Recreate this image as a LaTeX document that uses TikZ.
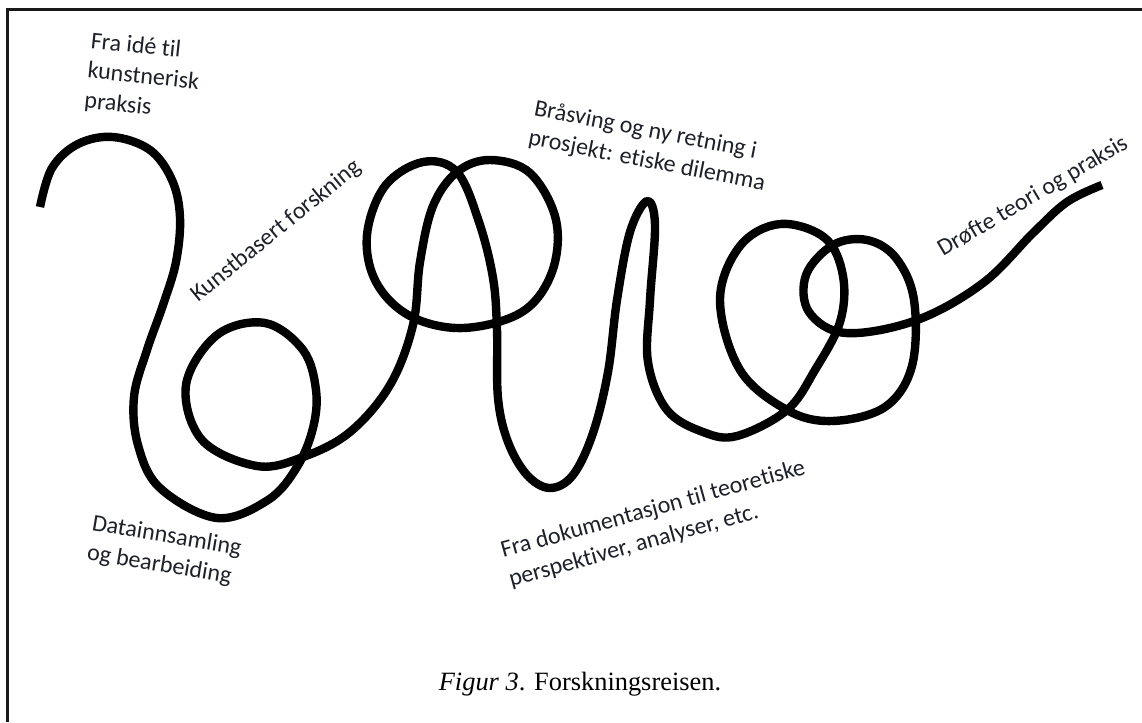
\documentclass[tikz,border=0pt]{standalone}
\usepackage{fontspec}
\newfontfamily\lblfont[Ligatures=NoCommon]{Carlito}
\newfontfamily\capfont{Liberation Serif}
\definecolor{ink}{RGB}{30,33,42}
\begin{document}
\begin{tikzpicture}[x=0.75pt,y=-0.75pt,
  lbl/.style={font={\lblfont\fontsize{18}{22.5}\selectfont}, text=ink, inner sep=0pt},
  capstyle/.style={font={\capfont\fontsize{19.8}{24}\selectfont}, inner sep=0pt},
  journey/.style={line width=6.3pt, black, line join=round},
  frameline/.style={line width=1.7pt, black!90}]
\useasboundingbox (0,0) rectangle (1142,722);
\fill[white] (0,0) rectangle (1142,722);
% frame (only left and top edges visible)
\draw[frameline] (7.5,722) -- (7.5,9.5) -- (1142,9.5);
% the research journey curve
\draw[journey] plot[smooth, tension=0.6] coordinates {
  (40,207) (52,168) (78,144) (113,137) (150,150) (172,180) (180,217)
  (176,262) (163,305) (147,350) (134,397) (138,445) (160,488) (217,518)
  (268,500) (297,467) (313,428) (316,390) (303,350) (265,323)
  (217,335) (186,385) (202,440) (257,466) (303,457) (350,432)
  (390,385) (413,325) (420,262) (433,206) (457,172) (490,160)
  (530,173) (556,220) (552,272) (522,312) (463,328) (410,316)
  (376,282) (367,235) (385,186) (423,162) (457,172) (479,222)
  (493,278) (497,330) (498,398) (508,442) (527,475) (550,488)
  (573,475) (593,433) (608,372) (617,300) (630,232) (647,201)
  (655,225) (650,300) (648,362) (667,410) (703,432) (737,436)
  (787,410) (815,370) (840,322) (843,276) (825,238) (780,224)
  (740,246) (720,300) (740,370) (787,410) (832,421) (885,407)
  (912,366) (914,300) (896,258) (867,240) (833,245) (806,275)
  (809,312) (846,333) (917,320) (983,283) (1033,233) (1067,202)
  (1102,185)};
% labels
\node[lbl, anchor=base west, rotate=-6] (idea) at (90,48)
  {\vtop{\hbox{Fra idé til}\hbox{kunstnerisk}\hbox{praksis}}};
\node[lbl, anchor=base west, rotate=39] (kunst) at (198,303)
  {Kunstbasert forskning};
\node[lbl, anchor=base west, rotate=-9.5] (data) at (91,530)
  {\vtop{\hbox{Datainnsamling}\hbox{og bearbeiding}}};
\node[lbl, anchor=base west, rotate=-11] (brasving) at (533,115)
  {\vtop{\hbox{Bråsving og ny retning i}\hbox{prosjekt: etiske dilemma}}};
\node[lbl, anchor=base west, rotate=30.5] (drofte) at (943,257)
  {Drøfte teori og praksis};
\node[lbl, anchor=base west, rotate=15.5] (dok) at (503,558)
  {\vtop{\hbox{Fra dokumentasjon til teoretiske}\hbox{perspektiver, analyser, etc.}}};
% caption
\node[capstyle, anchor=base] (caption) at (580,690)
  {\textit{Figur 3}. Forskningsreisen.};
\end{tikzpicture}
\end{document}
